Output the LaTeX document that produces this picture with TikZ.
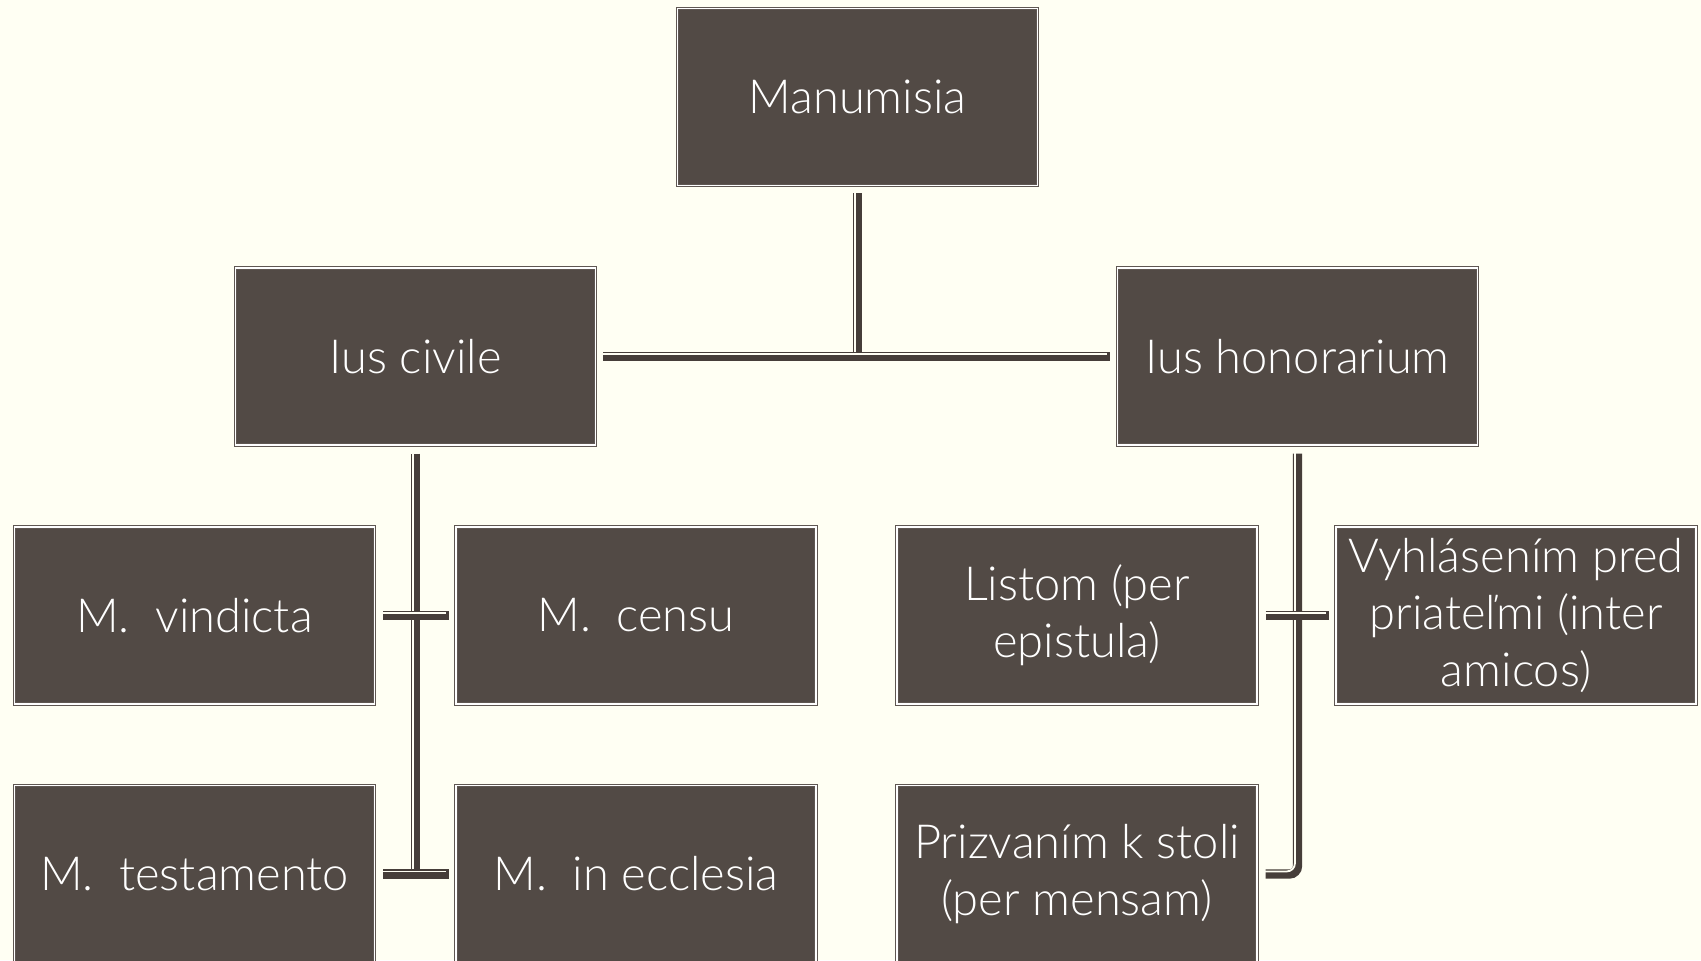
\documentclass[tikz,border=0pt]{standalone}
\usepackage{fontspec}
\setmainfont{Lato Light}
\usepackage{tikz}
\usetikzlibrary{calc,positioning}
\definecolor{boxfill}{RGB}{82,74,69}
\definecolor{boxline}{RGB}{95,87,82}
\definecolor{linkcol}{RGB}{70,62,57}
\definecolor{paper}{RGB}{255,255,243}

\begin{document}
\begin{tikzpicture}[
  x=0.5pt,y=-0.5pt,
  box/.style={rectangle,fill=boxfill,draw=boxline,double=white,double distance=0.7pt,
    line width=0.5pt,minimum width=180pt,minimum height=88.5pt,inner sep=2pt,
    text=white,align=center,font=\fontsize{23.5}{28.5}\selectfont},
  conn/.style={-,draw=linkcol,line width=4.6pt,
    postaction={draw=paper,line width=0.9pt,transform canvas={shift={(-1.3pt,1.3pt)}}}}
]
% background and frame
\fill[paper] (0,0) rectangle (1701,960);
\clip (0,0) rectangle (1701,960);
% top node
\node[box] (man) at (857.5,97) {Manumisia};
% second row
\node[box] (civ) at (415.5,356.5) {Ius civile};
\node[box] (hon) at (1297.5,356.5) {Ius honorarium};
% third row
\node[box] (vin) at (194.5,615.5) {M.~~vindicta};
\node[box] (cen) at (636,615.5) {M.~~censu};
\node[box] (lis) at (1077,615.5) {Listom (per\\epistula)};
\node[box] (vyh) at (1516,615.5) {Vyhlásením pred\\priateľmi (inter\\amicos)};
% fourth row
\node[box] (tes) at (194.5,874) {M.~~testamento};
\node[box] (ecc) at (636,874) {M.~~in ecclesia};
\node[box] (pri) at (1077,874) {Prizvaním k stoli\\(per mensam)};
% Manumisia -> Ius civile / Ius honorarium
\draw[conn] ($(man.south)+(0,7)$) -- (man.south |- civ.east);
\draw[conn] ($(civ.east)+(7,0)$) -- ($(hon.west)+(-7,0)$);
% Ius civile branch
\draw[conn] ($(civ.south)+(0,8)$) -- (civ.south |- tes.east);
\draw[conn] ($(vin.east)+(8,0)$) -- ($(cen.west)+(-7,0)$);
\draw[conn] ($(tes.east)+(8,0)$) -- ($(ecc.west)+(-7,0)$);
% Ius honorarium branch
\draw[conn,rounded corners=4pt] ($(hon.south)+(0,8)$) -- (hon.south |- pri.east) -- ($(pri.east)+(8,0)$);
\draw[conn] ($(lis.east)+(8,0)$) -- ($(vyh.west)+(-7,0)$);
\end{tikzpicture}
\end{document}
